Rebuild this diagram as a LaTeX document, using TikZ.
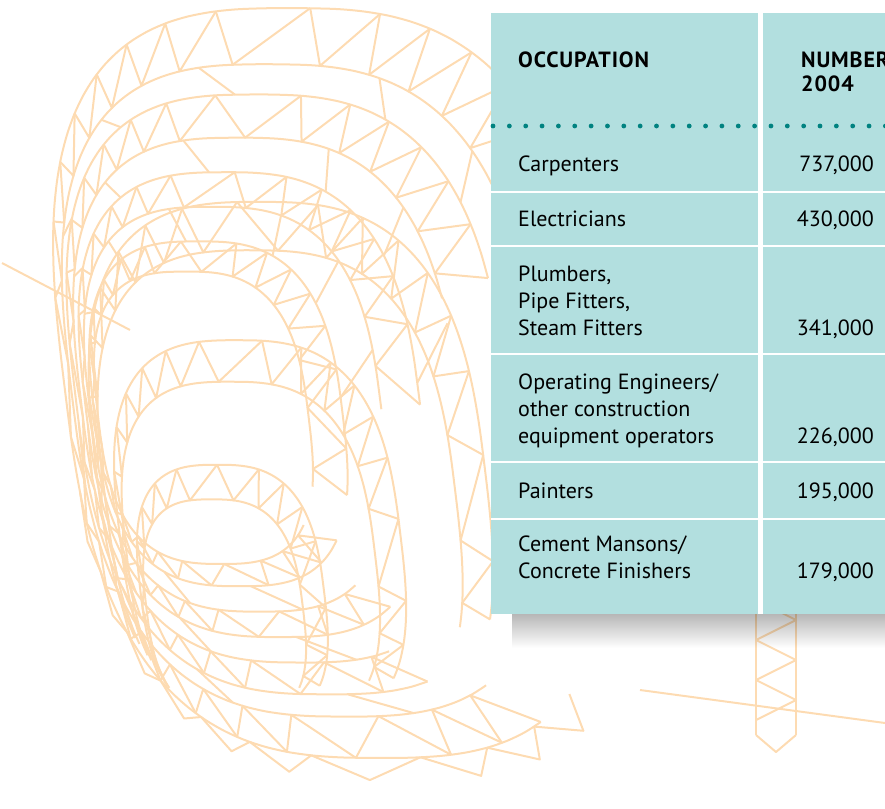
\documentclass[tikz,border=0pt]{standalone}
\usepackage{fontspec}
\setmainfont{PT Sans}
\usetikzlibrary{fadings}

\definecolor{wireorange}{RGB}{253,219,178}
\definecolor{tablecyan}{RGB}{178,223,223}
\definecolor{dotteal}{RGB}{0,130,128}

% points of the wire frame: #1 = angle, #2 = scale, #3 = focus
\pgfmathdeclarefunction{wirex}{3}{%
  \begingroup
  \pgfmathparse{cos(#1)*(abs(cos(#1))+0.001)^(-0.3)}\let\wc\pgfmathresult
  \pgfmathparse{sin(#1)*(abs(sin(#1))+0.001)^(-0.3)}\let\ws\pgfmathresult
  \pgfmathparse{#3+#2*(334+270*\wc+45*\ws-#3)}%
  \pgfmathsmuggle\pgfmathresult\endgroup}
\pgfmathdeclarefunction{wirey}{3}{%
  \begingroup
  \pgfmathparse{sin(#1)*(abs(sin(#1))+0.001)^(-0.3)}\let\ws\pgfmathresult
  \pgfmathparse{#3+#2*(383+375*\ws-#3)}%
  \pgfmathsmuggle\pgfmathresult\endgroup}

\tikzset{
  wire/.style={draw=wireorange, line width=2pt, line join=round},
  gap/.style={draw=white, line width=2.5pt},
  celltext/.style={anchor=base west, align=left, inner sep=0pt, font=\fontsize{22}{27}\selectfont},
  cellnum/.style={anchor=base east, inner sep=0pt, font=\fontsize{22}{27}\selectfont},
  headtext/.style={anchor=base west, align=left, inner sep=0pt,
    font=\fontsize{22}{24}\selectfont\bfseries\addfontfeatures{LetterSpace=4}},
}

\begin{document}
\begin{tikzpicture}[x=1pt,y=-1pt]
        \useasboundingbox (0,0) rectangle (885,808);
        \clip (0,0) rectangle (885,808);

        % draw the wire frame bands
        \foreach \fx/\fy/\so/\si/\ta/\tb/\n in {
            120/440/1/0.87/60/335/26,
            120/440/0.8/0.7/70/345/24,
            120/440/0.62/0.54/55/360/24,
            120/440/0.46/0.39/40/380/24,
            180/700/0.72/0.65/150/385/18,
            180/700/0.52/0.46/150/400/18,
            180/700/0.34/0.29/140/400/14} {
                % the two rims of the band
                \draw[wire] plot[domain=\ta:\tb, samples=60, smooth]
                        ({wirex(\x,\so,\fx)},{wirey(\x,\so,\fy)});
                \draw[wire] plot[domain=\ta:\tb, samples=60, smooth]
                        ({wirex(\x,\si,\fx)},{wirey(\x,\si,\fy)});
                % triangles between the rims
                \foreach \k in {1,...,\n} {
                        \pgfmathsetmacro\tp{\ta+(\k-1)*(\tb-\ta)/\n}
                        \pgfmathsetmacro\tq{\ta+\k*(\tb-\ta)/\n}
                        \pgfmathsetmacro\tm{(\tp+\tq)/2}
                        \draw[wire] ({wirex(\tp,\so,\fx)},{wirey(\tp,\so,\fy)})
                                -- ({wirex(\tm,\si,\fx)},{wirey(\tm,\si,\fy)})
                                -- ({wirex(\tq,\so,\fx)},{wirey(\tq,\so,\fy)});
                }
        }
        % ties between the bands
        \foreach \t in {80,110,...,350} {
                \draw[wire] ({wirex(\t,0.87,120)},{wirey(\t,0.87,440)}) -- ({wirex(\t+8,0.8,120)},{wirey(\t+8,0.8,440)});
                \draw[wire] ({wirex(\t,0.7,120)},{wirey(\t,0.7,440)}) -- ({wirex(\t+8,0.62,120)},{wirey(\t+8,0.62,440)});
                \draw[wire] ({wirex(\t,0.54,120)},{wirey(\t,0.54,440)}) -- ({wirex(\t+8,0.46,120)},{wirey(\t+8,0.46,440)});
        }
        % fringe below the outer band
        \foreach \t in {50,62,...,158}
                \draw[wire] ({wirex(\t,1,120)},{wirey(\t,1,440)})
                        -- ({wirex(\t+6,1.07,120)},{wirey(\t+6,1.07,440)})
                        -- ({wirex(\t+12,1,120)},{wirey(\t+12,1,440)});
        % loose members
        \draw[wire] (2,263) -- (130,330);
        \draw[wire] (640,690) -- (885,723);
        \draw[wire] (756,600) -- (756,735) (796,600) -- (796,735);
        \foreach \y in {600,640,680}
                \draw[wire] (756,\y) -- (796,\y+20) -- (756,\y+40);
        \draw[wire] (756,735) -- (776,752) -- (796,735);

        % the shadow under the table
        \fill[black, opacity=.4, path fading=south] (512,600) rectangle (885,648);

        % the table
        \fill[tablecyan] (491,13) rectangle (890,614);
        \fill[white] (758,13) rectangle (763,614);
        \foreach \y in {192,246,354,462,519}
                \draw[gap] (491,\y) -- (890,\y);
        % dotted rule under the head
        \foreach \k in {0,...,24}
                \fill[dotteal] (493+16.35*\k,126) circle (2.4);

        % head (multi-line nodes sit on their last line)
        \node[headtext] (occ) at (518,67) {OCCUPATION};
        \node[headtext] (num) at (801,91) {NUMBER\\2004};

        % rows
        \node[celltext] (carp) at (518,171) {Carpenters};
        \node[cellnum] (carpn) at (874,171) {737,000};
        \node[celltext] (elec) at (518,226) {Electricians};
        \node[cellnum] (elecn) at (874,226) {430,000};
        \node[celltext] (plumb) at (518,335) {Plumbers,\\Pipe Fitters,\\Steam Fitters};
        \node[cellnum] (plumbn) at (874,335) {341,000};
        \node[celltext] (oper) at (518,443) {Operating Engineers/\\other construction\\equipment operators};
        \node[cellnum] (opern) at (874,443) {226,000};
        \node[celltext] (paint) at (518,498) {Painters};
        \node[cellnum] (paintn) at (874,498) {195,000};
        \node[celltext] (cem) at (518,578) {Cement Mansons/\\Concrete Finishers};
        \node[cellnum] (cemn) at (874,578) {179,000};
\end{tikzpicture}
\end{document}
